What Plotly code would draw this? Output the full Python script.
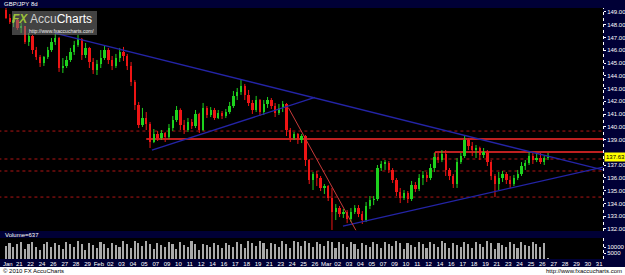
import plotly.graph_objects as go

W, H = 625, 275
def PX(x):
    return x / W
def PY(y):
    return 1 - y / H

title = "GBP/JPY 8d"
first_open = 149.16
closes = [
    148.53, 148.22, 148.37, 147.75, 147.90, 146.65, 147.12, 146.02, 145.47, 145.00, 145.47, 146.02,
    146.65, 146.96, 144.61, 144.77, 145.24, 145.87, 146.41, 146.88, 145.63, 146.18, 145.08, 144.45,
    144.92, 145.39, 146.02, 145.24, 144.77, 145.39, 145.87, 145.55, 144.77, 143.51, 141.71, 140.14,
    140.69, 140.22, 138.81, 139.44, 139.13, 139.52, 139.20, 139.91, 140.54, 141.32, 140.14, 139.75,
    140.38, 140.07, 141.01, 139.75, 141.48, 140.93, 141.32, 140.69, 141.08, 140.85, 141.16, 141.63,
    142.42, 142.73, 143.20, 142.50, 141.87, 141.32, 142.10, 141.16, 141.79, 142.10, 141.63, 141.08,
    141.48, 141.79, 139.75, 139.13, 139.44, 138.97, 139.28, 137.40, 135.83, 136.30, 135.99, 135.21,
    135.36, 134.42, 133.33, 133.64, 133.17, 133.33, 132.78, 133.33, 133.64, 133.17, 132.70, 133.80,
    134.27, 134.34, 136.77, 137.09, 137.17, 136.62, 135.83, 134.89, 134.42, 134.81, 134.34, 135.44,
    135.13, 135.99, 136.23, 135.99, 136.77, 137.64, 137.40, 137.87, 136.62, 136.15, 135.52, 137.24,
    137.71, 138.97, 138.50, 138.18, 138.34, 137.79, 138.03, 137.24, 136.15, 135.52, 135.99, 136.30,
    135.83, 135.52, 135.99, 136.30, 136.93, 137.17, 137.71, 137.40, 137.56, 137.24, 137.56, 137.63,
]
highs = [
    149.31, 148.84, 148.69, 148.53, 148.14, 147.90, 147.35, 147.20, 146.26, 145.63, 145.55, 146.26,
    146.96, 147.28, 147.05, 145.39, 145.55, 146.18, 146.73, 147.20, 146.96, 146.57, 146.26, 145.39,
    145.24, 146.02, 146.41, 146.18, 145.55, 145.71, 146.18, 146.26, 145.71, 145.08, 143.67, 141.95,
    141.48, 141.16, 140.38, 139.83, 139.67, 139.75, 139.60, 140.22, 140.85, 141.63, 141.45, 140.54,
    140.69, 140.61, 141.32, 141.10, 141.87, 141.63, 141.55, 141.48, 141.32, 141.24, 141.40, 141.95,
    142.81, 143.04, 143.67, 143.36, 142.89, 142.10, 142.42, 142.18, 142.10, 142.34, 142.26, 141.87,
    141.79, 142.02, 141.87, 139.91, 139.60, 139.52, 139.44, 139.36, 137.48, 136.46, 136.54, 136.15,
    135.52, 135.44, 135.21, 133.95, 133.80, 133.56, 133.48, 133.64, 133.87, 133.87, 133.40, 134.11,
    134.58, 134.58, 137.01, 137.32, 137.40, 137.32, 136.77, 135.99, 135.21, 135.05, 134.97, 135.76,
    135.68, 136.30, 136.54, 136.46, 137.09, 137.95, 137.95, 138.18, 138.18, 136.77, 136.30, 137.56,
    137.95, 139.36, 139.13, 138.81, 138.58, 138.45, 138.34, 138.18, 137.40, 136.30, 136.46, 136.54,
    136.46, 136.15, 136.23, 136.62, 137.24, 137.40, 138.03, 138.03, 137.95, 137.95, 137.71, 137.95,
]
lows = [
    148.45, 148.06, 147.82, 147.59, 147.35, 146.49, 146.34, 145.71, 145.24, 144.69, 144.77, 145.32,
    145.87, 146.41, 144.30, 144.22, 144.61, 145.08, 145.63, 146.26, 145.24, 145.39, 144.61, 144.14,
    144.06, 144.61, 145.24, 144.92, 144.45, 144.61, 145.08, 145.16, 144.45, 143.20, 141.32, 139.91,
    139.99, 139.75, 138.34, 138.73, 138.89, 138.97, 138.81, 139.05, 139.67, 140.38, 139.75, 139.44,
    139.60, 139.83, 139.91, 139.52, 139.67, 140.69, 140.77, 140.54, 140.61, 140.61, 140.69, 141.01,
    141.48, 142.10, 142.50, 142.10, 141.63, 141.01, 141.16, 140.85, 140.93, 141.48, 141.40, 140.77,
    140.93, 141.16, 139.28, 138.81, 138.97, 138.66, 138.73, 136.93, 135.52, 135.05, 135.36, 134.97,
    134.74, 134.19, 131.92, 132.70, 132.93, 132.86, 132.46, 132.54, 133.17, 132.93, 132.39, 132.54,
    133.56, 133.87, 134.20, 136.54, 136.62, 136.38, 135.60, 134.58, 134.03, 134.27, 134.03, 134.19,
    134.89, 134.97, 135.44, 135.68, 135.83, 136.46, 137.17, 137.24, 136.15, 135.83, 135.21, 135.21,
    137.09, 137.56, 138.18, 137.71, 137.56, 137.40, 137.56, 136.93, 135.83, 134.50, 135.05, 135.68,
    135.52, 135.21, 135.36, 135.83, 136.15, 136.62, 137.01, 137.09, 137.24, 137.09, 137.01, 137.40,
]
volumes = [
    11200, 13500, 9800, 12400, 14100, 8700, 12900, 13800, 10100, 7600, 12800, 14500,
    9900, 13200, 11800, 8200, 13900, 12500, 10400, 14800, 12100, 7900, 13400, 11600,
    9500, 14200, 12700, 8800, 13600, 11900, 10200, 14600, 12300, 9100, 15200, 13700,
    10800, 14900, 12600, 8400, 13100, 11400, 9700, 14300, 12200, 8600, 13800, 11700,
    10300, 14700, 12800, 7800, 12900, 11300, 9600, 13500, 12000, 8900, 13300, 11500,
    10100, 14400, 12600, 9300, 14800, 13100, 10600, 15000, 13400, 8500, 13700, 12100,
    10000, 14600, 12900, 9400, 15300, 13800, 11200, 15100, 13600, 9800, 14200, 12400,
    10500, 15400, 13900, 9000, 13800, 12300, 9900, 14100, 12500, 8700, 13600, 11900,
    10200, 14500, 12700, 9200, 14000, 12200, 10700, 14900, 13200, 8300, 13500, 11800,
    9600, 14200, 12600, 8800, 13900, 12100, 10400, 14700, 13000, 9100, 13600, 11700,
    10000, 14300, 12800, 8900, 14100, 12400, 9700, 14600, 13100, 8600, 13400, 11600,
    10300, 14400, 12700, 9500, 13900, 12000, 10800, 14200, 12500, 9900, 13700, 637,
]
date_labels = ["Jan", "21", "22", "24", "26", "27", "28", "29",
               "Feb", "02", "03", "04", "05", "07", "09", "10", "11", "12", "14", "16",
               "17", "18", "19", "21", "23", "24", "25", "26",
               "Mar", "02", "03", "04", "05", "07", "09", "10", "11", "12", "14", "16",
               "17", "18", "19", "21", "23", "24", "25", "26",
               "27", "28", "29", "30", "31"]
last_price = 137.63
volume_text = "Volume=637"

# drawn studies: (bar, price) endpoints
dashed_levels = [139.67, 137.48, 136.54, 134.50]
solid_levels = [(37, 139.05), (113.2, 138.03)]
blue_lines = [((12.9, 147.35), (157.5, 136.62)),
              ((38.5, 138.18), (81.5, 142.30)),
              ((88.9, 132.23), (157.5, 136.85))]
red_diag = ((74.5, 141.5), (92.3, 131.9))

n = len(closes)
opens = [first_open] + closes[:-1]
idx = list(range(n))
up = [i for i in idx if closes[i] >= opens[i]]
dn = [i for i in idx if closes[i] < opens[i]]

GREEN = "#1ed21e"
RED = "#ee1515"

fig = go.Figure()

def wicks(ids):
    xs, ys = [], []
    for i in ids:
        xs += [i, i, None]
        ys += [lows[i], highs[i], None]
    return xs, ys

for ids, col in ((up, GREEN), (dn, RED)):
    wx, wy = wicks(ids)
    fig.add_trace(go.Scatter(x=wx, y=wy, mode="lines", line=dict(color=col, width=1),
                             hoverinfo="skip", showlegend=False, xaxis="x", yaxis="y"))
    fig.add_trace(go.Bar(x=ids,
                         base=[min(opens[i], closes[i]) for i in ids],
                         y=[max(abs(closes[i] - opens[i]), 0.04) for i in ids],
                         width=0.62, marker=dict(color=col, line=dict(width=0)),
                         showlegend=False, xaxis="x", yaxis="y"))

fig.add_trace(go.Bar(x=idx, y=volumes, width=0.42,
                     marker=dict(color="#a9a9a9", line=dict(width=0)),
                     showlegend=False, xaxis="x2", yaxis="y2"))

XMAX = 157.5
shapes = []
for lv in dashed_levels:
    shapes.append(dict(type="line", xref="x", yref="y", x0=-2, x1=XMAX, y0=lv, y1=lv,
                       line=dict(color="#b01414", width=1, dash="dot"), layer="below"))
for x0, lv in solid_levels:
    shapes.append(dict(type="line", xref="x", yref="y", x0=x0, x1=XMAX, y0=lv, y1=lv,
                       line=dict(color="#ff2b2b", width=1.6), layer="below"))
shapes.append(dict(type="line", xref="x", yref="y", x0=solid_levels[1][0], x1=solid_levels[1][0],
                   y0=solid_levels[1][1], y1=dashed_levels[1],
                   line=dict(color="#ff2b2b", width=1.2), layer="below"))
for (a, b) in blue_lines:
    shapes.append(dict(type="line", xref="x", yref="y", x0=a[0], y0=a[1], x1=b[0], y1=b[1],
                       line=dict(color="#2424a6", width=1.3)))
shapes.append(dict(type="line", xref="x", yref="y", x0=red_diag[0][0], y0=red_diag[0][1],
                   x1=red_diag[1][0], y1=red_diag[1][1], line=dict(color="#c83a3a", width=1)))

# frame pieces
shapes.append(dict(type="line", xref="paper", yref="paper", x0=PX(603.5), x1=PX(603.5),
                   y0=PY(231), y1=PY(8), line=dict(color="#ffffff", width=1, dash="dot")))
shapes.append(dict(type="line", xref="paper", yref="paper", x0=PX(603.5), x1=PX(603.5),
                   y0=PY(259), y1=PY(238), line=dict(color="#ffffff", width=1, dash="dot")))
shapes.append(dict(type="rect", xref="paper", yref="paper", x0=0, x1=1, y0=0, y1=PY(267),
                   fillcolor="#ffffff", line=dict(width=0)))
# watermark box
shapes.append(dict(type="rect", xref="paper", yref="paper", x0=PX(12), x1=PX(97),
                   y0=PY(35), y1=PY(11), fillcolor="rgba(120,120,120,0.55)",
                   line=dict(width=0), layer="above"))

tick_vals = [v for v in range(132, 150) if v != 138]
ann = []
ann.append(dict(xref="paper", yref="paper", x=PX(2), y=PY(4), text=title, showarrow=False,
                xanchor="left", yanchor="middle", font=dict(size=6, color="#ffffff")))
ann.append(dict(xref="paper", yref="paper", x=PX(3), y=PY(234.5), text=volume_text, showarrow=False,
                xanchor="left", yanchor="middle", font=dict(size=6, color="#ffffff")))
ann.append(dict(xref="paper", yref="y", x=PX(604), y=last_price, text=f"{last_price:.2f}",
                showarrow=False, xanchor="left", yanchor="middle", bgcolor="#ffff00",
                borderpad=1, font=dict(size=6, color="#000000")))
ann.append(dict(xref="paper", yref="paper", x=PX(1), y=PY(271), text="© 2010 FX AccuCharts",
                showarrow=False, xanchor="left", yanchor="middle", font=dict(size=6, color="#000000")))
ann.append(dict(xref="paper", yref="paper", x=PX(624), y=PY(271), text="http://www.fxaccucharts.com",
                showarrow=False, xanchor="right", yanchor="middle", font=dict(size=6, color="#000000")))
ann.append(dict(xref="paper", yref="paper", x=PX(11), y=PY(19), text="<b><i>FX</i></b>",
                showarrow=False, xanchor="left", yanchor="middle", borderpad=0,
                font=dict(size=12, color="#9cc03a")))
ann.append(dict(xref="paper", yref="paper", x=PX(29), y=PY(19),
                text="<span style='color:#cfcfcf'>Accu</span>Charts",
                showarrow=False, xanchor="left", yanchor="middle", borderpad=0,
                font=dict(size=12, color="#ffffff", family="Liberation Sans")))
ann.append(dict(xref="paper", yref="paper", x=PX(28), y=PY(31), text="http://www.fxaccucharts.com/",
                showarrow=False, xanchor="left", yanchor="middle", borderpad=0,
                font=dict(size=5, color="#eeeeee")))

fig.update_layout(
    width=W, height=H, margin=dict(l=0, r=0, t=0, b=0),
    paper_bgcolor="#000036", plot_bgcolor="#000000",
    barmode="overlay", bargap=0, showlegend=False,
    font=dict(family="Liberation Sans", size=6, color="#ffffff"),
    shapes=shapes, annotations=ann,
    xaxis=dict(domain=[0, PX(603)], range=[-1.58, XMAX], anchor="y",
               showticklabels=False, showgrid=False, zeroline=False, ticks=""),
    yaxis=dict(domain=[PY(231), PY(8)], range=[131.84, 149.31], side="right", anchor="x",
               tickvals=tick_vals, ticktext=[f"{v:.2f}" for v in tick_vals],
               ticks="outside", ticklen=2, tickcolor="#ffffff",
               tickfont=dict(size=6, color="#ffffff"), showgrid=False, zeroline=False),
    xaxis2=dict(domain=[0, PX(603)], range=[-1.58, XMAX], anchor="y2", matches="x",
                tickvals=[3 * k + 0.5 for k in range(len(date_labels))], ticktext=date_labels,
                ticks="", tickfont=dict(size=6, color="#ffffff"), showgrid=False, zeroline=False),
    yaxis2=dict(domain=[PY(259), PY(238)], range=[0, 17500], side="right", anchor="x2",
                tickvals=[5000, 10000], ticktext=["5000", "10000"],
                ticks="outside", ticklen=2, tickcolor="#ffffff",
                tickfont=dict(size=6, color="#ffffff"), showgrid=False, zeroline=False),
)

fig.write_html("out.html")
